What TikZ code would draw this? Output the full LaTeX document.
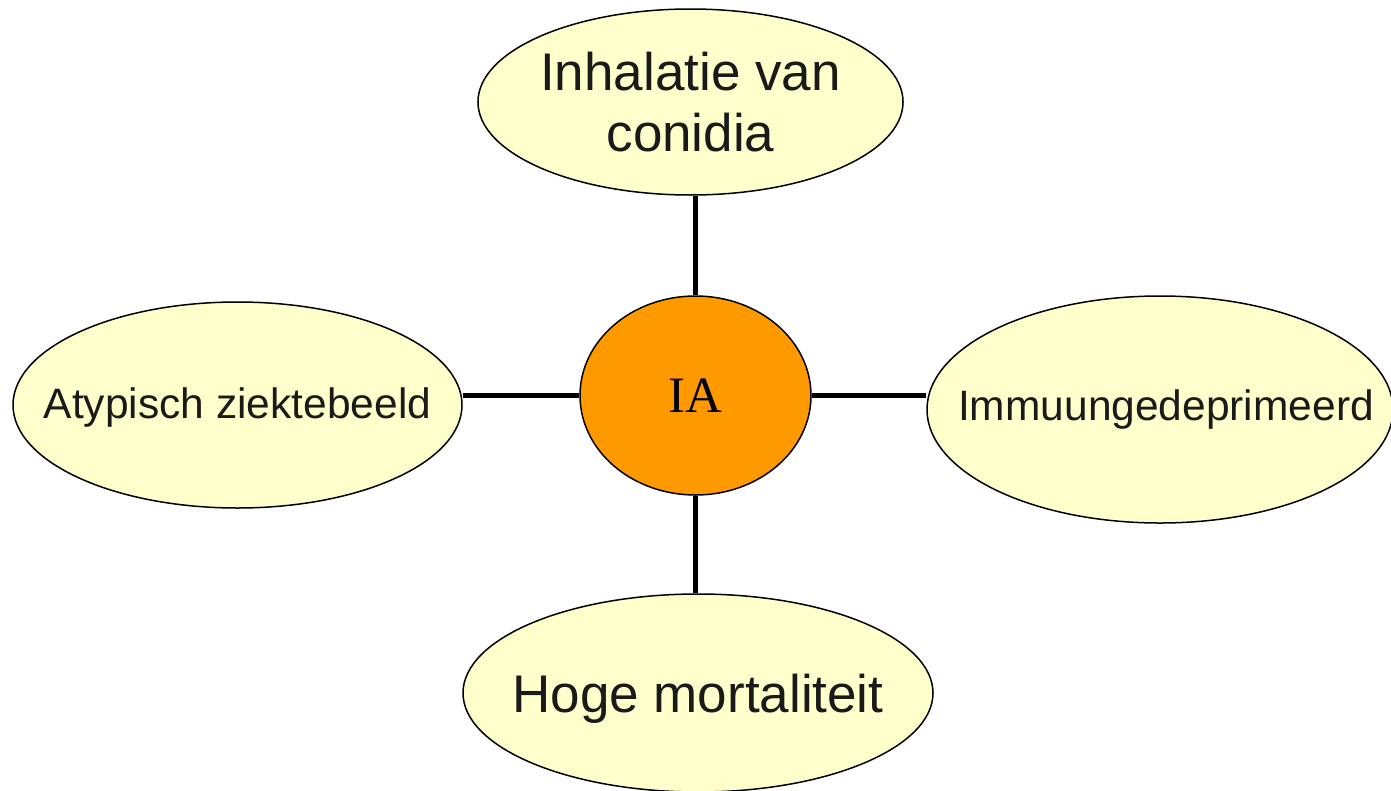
\documentclass[tikz,border=0pt]{standalone}
\usepackage{fontspec}
\setmainfont{Liberation Sans}
\newfontfamily\iafont{Liberation Serif}
\usetikzlibrary{shapes.geometric}
\definecolor{paleyellow}{HTML}{FFFFCC}
\definecolor{iaorange}{HTML}{FF9900}
\definecolor{txt}{HTML}{1A1A1A}
\tikzset{
  bubble/.style={ellipse, draw=black, line width=1.5pt, fill=paleyellow, inner sep=0pt, text=txt, align=center},
  hub/.style={ellipse, draw=black, line width=1.5pt, fill=iaorange, inner sep=0pt, text=black},
  link/.style={line width=4.5pt, draw=black},
  bigtxt/.style={font=\fontsize{53}{61}\selectfont},
  midtxt/.style={font=\fontsize{42.5}{50}\selectfont}
}
\begin{document}
\begin{tikzpicture}[x=1pt,y=-1pt]
\useasboundingbox (0,0) rectangle (1391,790);
\clip (0,0) rectangle (1391,790);
\node[hub, minimum width=231pt, minimum height=199pt, font=\iafont\fontsize{51}{55}\selectfont] (ia) at (695.5,395.5) {IA};
\node[bubble, bigtxt, minimum width=425pt, minimum height=186pt] (top) at (690.5,102) {Inhalatie van\\conidia};
\node[bubble, midtxt, minimum width=449pt, minimum height=206pt] (left) at (237.5,405) {\makebox[0pt]{\raisebox{-3pt}[\height][\depth]{Atypisch ziektebeeld}}};
\node[bubble, midtxt, minimum width=466pt, minimum height=227pt] (right) at (1160,409.5) {\makebox[0pt]{\hspace*{12pt}Immuungedeprimeerd}};
\node[bubble, bigtxt, minimum width=470pt, minimum height=198pt] (bot) at (698,693) {\makebox[0pt]{\raisebox{-6pt}[\height][\depth]{Hoge mortaliteit}}};
\draw[link] (ia.north) -- (ia.north |- top.south);
\draw[link] (ia.south) -- (ia.south |- bot.north);
\draw[link] (ia.west) -- (ia.west -| left.east);
\draw[link] (ia.east) -- (ia.east -| right.west);
\end{tikzpicture}
\end{document}
